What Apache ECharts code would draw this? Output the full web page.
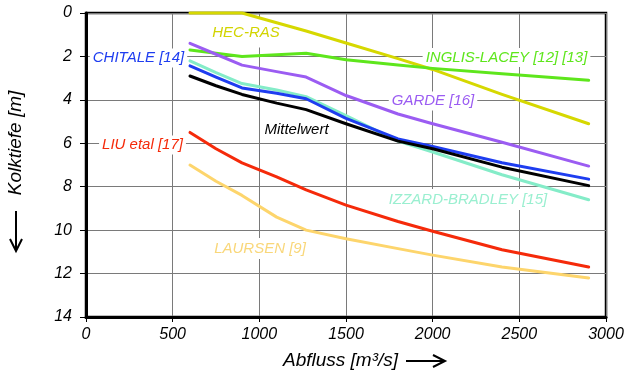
<!DOCTYPE html>
<html>
<head>
<meta charset="utf-8">
<script src="https://cdn.jsdelivr.net/npm/echarts@6/dist/echarts.min.js"></script>
<style>
  html, body { margin: 0; padding: 0; background: #fff; }
  #chart { width: 627px; height: 374px; }
</style>
</head>
<body>
<div id="chart"></div>
<script>
// Discharge values (m³/s) at which every scour-depth curve is evaluated
const abfluss = [600, 750, 900, 1100, 1270, 1500, 1800, 2000, 2400, 2900];

// Scour depth (m) per method
const hecRas      = [0.0, 0.0, 0.0, 0.45, 0.83, 1.38, 2.1, 2.6, 3.75, 5.1];
const inglisLacey = [1.7, 1.85, 2.0, 1.92, 1.85, 2.15, 2.4, 2.55, 2.8, 3.1];
const garde       = [1.4, 1.9, 2.4, 2.7, 2.95, 3.8, 4.65, 5.1, 5.95, 7.05];
const chitale     = [2.43, 2.95, 3.45, 3.7, 3.95, 4.85, 5.8, 6.15, 6.9, 7.65];
const izzard      = [2.2, 2.75, 3.25, 3.55, 3.85, 4.73, 5.9, 6.4, 7.45, 8.6];
const mittelwert  = [2.9, 3.35, 3.75, 4.15, 4.45, 5.1, 5.9, 6.25, 7.1, 7.95];
const liu         = [5.5, 6.25, 6.9, 7.55, 8.15, 8.85, 9.6, 10.05, 10.9, 11.7];
const laursen     = [7.0, 7.75, 8.4, 9.4, 10.0, 10.4, 10.85, 11.15, 11.7, 12.2];

// Axis ticks
const xTicks = [0, 500, 1000, 1500, 2000, 2500, 3000];
const yTicks = [0, 2, 4, 6, 8, 10, 12, 14];

const FONT = 'Liberation Sans, Arial, sans-serif';

const seriesDefs = [
  { name: 'HEC-RAS', values: hecRas, color: '#d6d800' },
  { name: 'INGLIS-LACEY [12] [13]', values: inglisLacey, color: '#5ee61c' },
  { name: 'GARDE [16]', values: garde, color: '#9b5cf2' },
  { name: 'IZZARD-BRADLEY [15]', values: izzard, color: '#84ecc8' },
  { name: 'CHITALE [14]', values: chitale, color: '#1e3df0' },
  { name: 'Mittelwert', values: mittelwert, color: '#000000' },
  { name: 'LIU etal [17]', values: liu, color: '#f52a0a' },
  { name: 'LAURSEN [9]', values: laursen, color: '#fdd56c' }
];

// In-plot curve labels
const curveLabels = [
  { text: 'HEC-RAS', color: '#d2d400', x: 246, y: 33, bg: true, pad: [7, 3] },
  { text: 'CHITALE [14]', color: '#1e3df0', x: 138.5, y: 58, bg: true, pad: [2, 3] },
  { text: 'INGLIS-LACEY [12] [13]', color: '#5ee61c', x: 506.5, y: 57.5, bg: true, pad: [2, 3] },
  { text: 'GARDE [16]', color: '#9b5cf2', x: 433, y: 101, bg: true, pad: [2, 3] },
  { text: 'Mittelwert', color: '#000000', x: 296.5, y: 130, bg: false, pad: [0, 0] },
  { text: 'LIU etal [17]', color: '#f52a0a', x: 142.5, y: 145, bg: true, pad: [2, 3] },
  { text: 'IZZARD-BRADLEY [15]', color: '#9aefd0', x: 468, y: 199.5, bg: true, pad: [3, 3] },
  { text: 'LAURSEN [9]', color: '#f9d77a', x: 260, y: 248.5, bg: true, pad: [3, 3] }
];

const chart = echarts.init(document.getElementById('chart'), null, { renderer: 'canvas' });

const series = seriesDefs.map(s => ({
  name: s.name,
  type: 'line',
  data: abfluss.map((x, i) => [x, s.values[i]]),
  showSymbol: false,
  clip: false,
  z: 5,
  lineStyle: { color: s.color, width: 3, join: 'round', cap: 'round' },
  itemStyle: { color: s.color },
  emphasis: { disabled: true },
  animation: false
}));

// Labels sit above the grid lines but beneath the curves
const graphics = curveLabels.map(l => ({
  type: 'text',
  x: l.x,
  y: l.y,
  z: 3,
  style: {
    text: l.text,
    fill: l.color,
    font: 'italic 15px ' + FONT,
    align: 'center',
    verticalAlign: 'middle',
    backgroundColor: l.bg ? '#ffffff' : null,
    padding: l.pad
  }
}));

// Axis titles with arrows
graphics.push(
  {
    type: 'text', x: 283, y: 361, z: 10,
    style: { text: 'Abfluss [m³/s]', fill: '#000', font: 'italic 19px ' + FONT, align: 'left', verticalAlign: 'middle' }
  },
  { type: 'line', z: 10, shape: { x1: 406, y1: 361, x2: 444, y2: 361 }, style: { stroke: '#000', lineWidth: 2 } },
  { type: 'polyline', z: 10, shape: { points: [[433, 355], [445, 361], [433, 367]] }, style: { stroke: '#000', lineWidth: 2, fill: null } },
  {
    type: 'text', x: 16, y: 143, rotation: Math.PI / 2, z: 10,
    style: { text: 'Kolktiefe [m]', fill: '#000', font: 'italic 19px ' + FONT, align: 'center', verticalAlign: 'middle' }
  },
  { type: 'line', z: 10, shape: { x1: 16, y1: 211, x2: 16, y2: 250 }, style: { stroke: '#000', lineWidth: 2 } },
  { type: 'polyline', z: 10, shape: { points: [[10, 239], [16, 251], [22, 239]] }, style: { stroke: '#000', lineWidth: 2, fill: null } }
);

chart.setOption({
  animation: false,
  backgroundColor: '#ffffff',
  grid: {
    left: 86, right: 21, top: 13, bottom: 57,
    show: true, borderColor: '#000', borderWidth: 2.5, backgroundColor: 'transparent'
  },
  xAxis: {
    type: 'value',
    min: xTicks[0], max: xTicks[xTicks.length - 1], interval: 500,
    axisLine: { show: true, onZero: false, lineStyle: { color: '#000', width: 3 } },
    axisTick: { show: true, length: 5, lineStyle: { color: '#000', width: 1 } },
    axisLabel: {
      color: '#000', fontFamily: FONT, fontStyle: 'italic', fontSize: 16, margin: 10,
      formatter: v => String(v)
    },
    splitLine: { show: true, lineStyle: { color: '#7a7a7a', width: 1 } }
  },
  yAxis: {
    type: 'value',
    inverse: true,
    min: yTicks[0], max: yTicks[yTicks.length - 1], interval: 2,
    axisLine: { show: true, onZero: false, lineStyle: { color: '#000', width: 3 } },
    axisTick: { show: true, length: 6, lineStyle: { color: '#000', width: 1 } },
    axisLabel: {
      color: '#000', fontFamily: FONT, fontStyle: 'italic', fontSize: 16, margin: 14,
      formatter: v => String(v)
    },
    splitLine: { show: true, lineStyle: { color: '#7a7a7a', width: 1 } }
  },
  series: series,
  graphic: graphics
});
</script>
</body>
</html>
